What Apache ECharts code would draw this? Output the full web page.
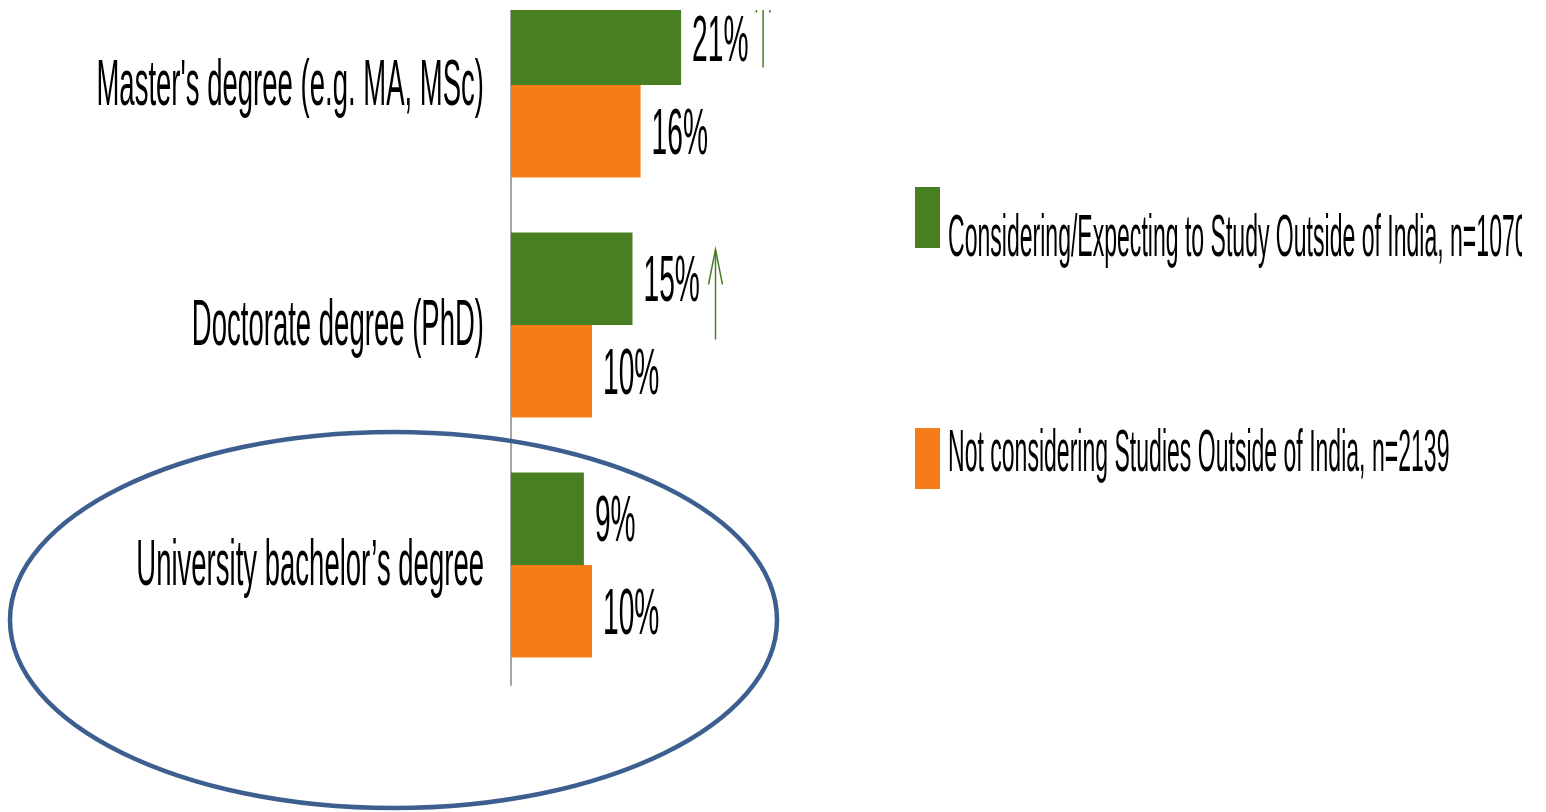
<!DOCTYPE html>
<html><head><meta charset="utf-8">
<script src="https://cdn.jsdelivr.net/npm/echarts@6/dist/echarts.min.js"></script>
<style>html,body{margin:0;padding:0;background:#fff;overflow:hidden}#c{width:1546px;height:847px;margin-top:-35px}</style>
</head><body><div id="c"></div>
<script>
const categories = ["Master's degree (e.g. MA, MSc)", "Doctorate degree (PhD)", "University bachelor\u2019s degree"];
const seriesNames = ["Considering/Expecting to Study Outside of India, n=1070", "Not considering Studies Outside of India, n=2139"];
const considering = [21, 15, 9];
const notConsidering = [16, 10, 10];

const OFF = 35; // chart canvas starts 35px above the page top
const GREEN = '#487f23';
const ORANGE = '#f57d19';
const FONT = '"Liberation Sans", Arial, sans-serif';
const SQ = 0.43;
const GAP = 0.23;

const labelData = [];
considering.forEach((v, i) => labelData.push([v, i, 0]));
notConsidering.forEach((v, i) => labelData.push([v, i, 1]));

const chart = echarts.init(document.getElementById('c'));

const option = {
  animation: false,
  backgroundColor: '#fff',
  grid: { left: 511, right: 630, top: 0, bottom: 127 },
  xAxis: { type: 'value', min: 0, max: 50, show: false },
  yAxis: {
    type: 'category', data: categories, inverse: true,
    axisLine: { show: true, lineStyle: { color: '#a6a6a6', width: 2 } },
    axisTick: { show: false }, axisLabel: { show: false }, splitLine: { show: false }
  },
  legend: {
    orient: 'vertical', left: 915, top: 187 + OFF, padding: 0, itemWidth: 25, itemHeight: 61, itemGap: 180,
    icon: 'rect', data: seriesNames, selectedMode: false,
    formatter: () => '', textStyle: { fontSize: 1 }
  },
  series: [
    { name: seriesNames[0], type: 'bar', data: considering, barGap: '0%', barCategoryGap: (GAP * 100) + '%', itemStyle: { color: GREEN } },
    { name: seriesNames[1], type: 'bar', data: notConsidering, barGap: '0%', barCategoryGap: (GAP * 100) + '%', itemStyle: { color: ORANGE } },
    {
      type: 'custom', name: 'valueLabels', clip: false, z: 5, data: labelData,
      renderItem: function (params, api) {
        const v = api.value(0), c = api.value(1), s = api.value(2);
        const p = api.coord([v, c]);
        const band = api.size([0, 1])[1];
        const barH = band * (1 - GAP) / 2;
        const y = p[1] + (s === 0 ? -barH / 2 : barH / 2) + 5;
        return {
          type: 'text', x: p[0] + 11, y: y, scaleX: 0.44,
          style: { text: v + '%', fontSize: 64, fontFamily: FONT, fill: '#000', align: 'left', verticalAlign: 'middle' }
        };
      }
    },
    {
      type: 'custom', name: 'categoryLabels', clip: false, z: 5,
      data: categories.map((c, i) => [0, i]),
      renderItem: function (params, api) {
        const c = api.value(1);
        const p = api.coord([0, c]);
        return {
          type: 'text', x: p[0] - 27, y: p[1] + 2, scaleX: SQ,
          style: { text: categories[params.dataIndex], fontSize: 64, fontFamily: FONT, fill: '#000', align: 'right', verticalAlign: 'middle' }
        };
      }
    }
  ]
};
chart.setOption(option);

const pm = chart.convertToPixel({ gridIndex: 0 }, [considering[0], 0]);
const pd = chart.convertToPixel({ gridIndex: 0 }, [considering[1], 1]);
const pb = chart.convertToPixel({ gridIndex: 0 }, [0, 2]);

function arrow(x, tipY, bottomY) {
  return [
    { type: 'line', z: 50, shape: { x1: x, y1: tipY, x2: x, y2: bottomY }, style: { stroke: GREEN, lineWidth: 1.5 } },
    { type: 'polyline', z: 50, shape: { points: [[x - 7, tipY + 35], [x, tipY], [x + 7, tipY + 35]] }, style: { stroke: GREEN, lineWidth: 1.5, fill: null } }
  ];
}

const graphics = []
  .concat(arrow(pm[0] + 82, pm[1] - 107.5, pm[1] - 17.5))
  .concat(arrow(pd[0] + 83, pd[1] - 75.5, pd[1] + 14.5))
  .concat([
    { type: 'ellipse', z: 60, shape: { cx: pb[0] - 117.5, cy: pb[1] + 55, rx: 383.5, ry: 188 }, style: { fill: null, stroke: '#3d5f8f', lineWidth: 4.5 } },
    { type: 'rect', z: 100, shape: { x: 0, y: 0, width: 1546, height: 10 + OFF }, style: { fill: '#fff' } },
    { type: 'text', z: 60, x: 948, y: 239 + OFF, scaleX: 0.384, style: { text: seriesNames[0], fontSize: 60, fontFamily: FONT, fill: '#000', align: 'left', verticalAlign: 'middle' } },
    { type: 'rect', z: 100, shape: { x: 1522, y: 195 + OFF, width: 24, height: 90 }, style: { fill: '#fff' } },
    { type: 'text', z: 60, x: 948, y: 454 + OFF, scaleX: 0.384, style: { text: seriesNames[1], fontSize: 60, fontFamily: FONT, fill: '#000', align: 'left', verticalAlign: 'middle' } }
  ]);
chart.setOption({ graphic: graphics });
</script>
</body></html>
